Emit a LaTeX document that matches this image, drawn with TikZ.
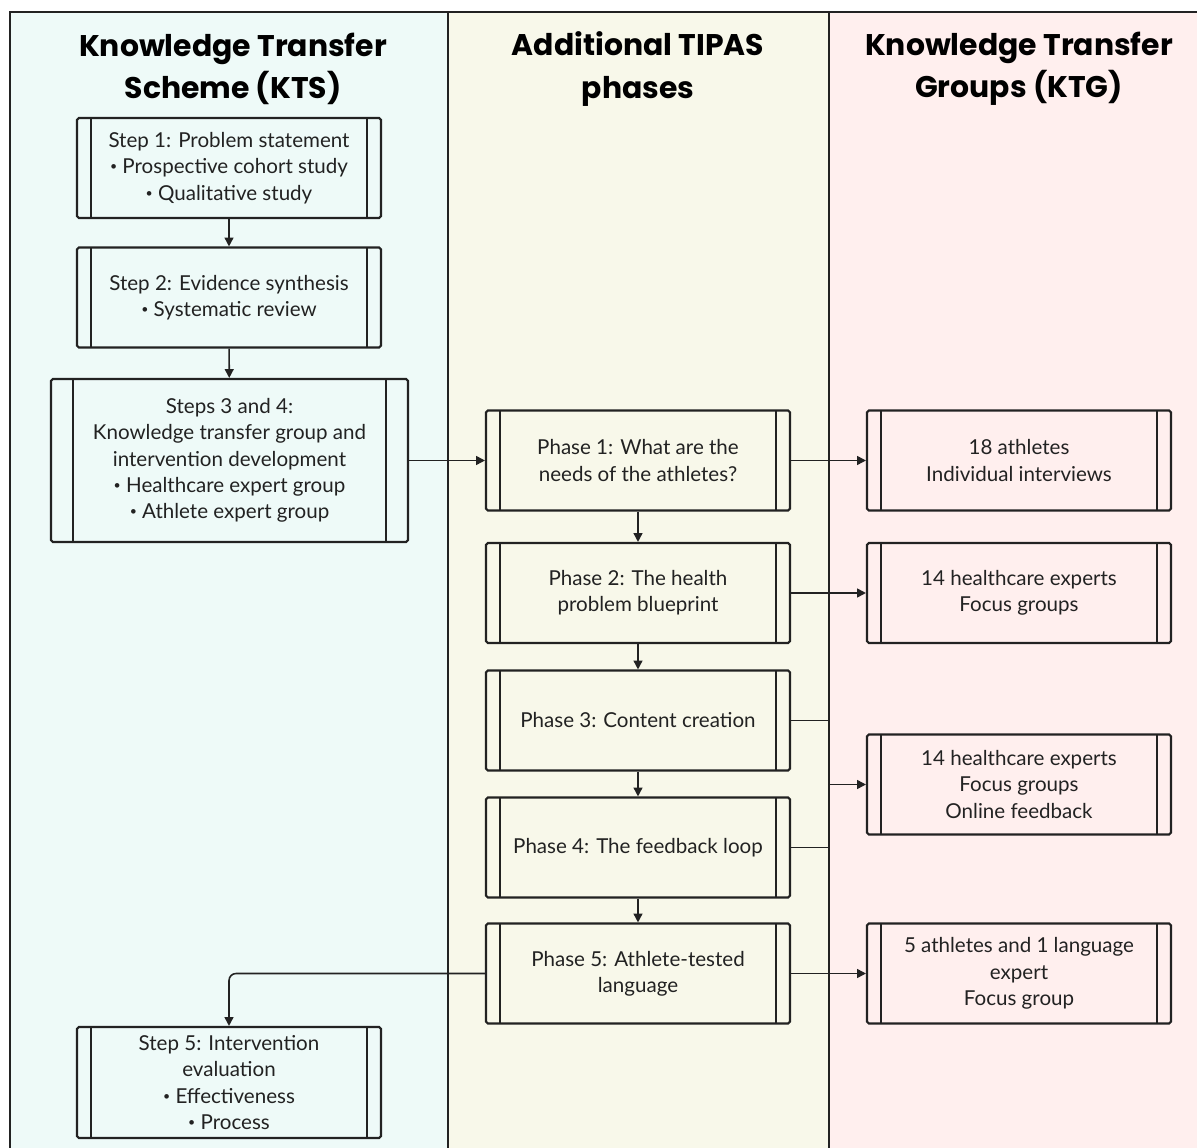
\documentclass[tikz,border=0pt]{standalone}
\usepackage{fontspec}
\setmainfont{Lato}
\newfontfamily\titlefont{Poppins}
\usetikzlibrary{arrows.meta,positioning}

\definecolor{lanecyan}{HTML}{EEFAF8}
\definecolor{laneyellow}{HTML}{F8F8EA}
\definecolor{lanepink}{HTML}{FFEFEE}
\definecolor{inkgray}{HTML}{222222}

\newcommand\smbul{\raisebox{0.28ex}{\scalebox{0.6}{\textbullet}}\ }

\tikzset{
  procbox/.style={draw=inkgray, line width=1.2pt, rounded corners=1pt,
    minimum width=6.08cm, minimum height=2cm, align=center, inner sep=0pt,
    text=inkgray, font=\fontsize{11.7}{15}\selectfont,
    path picture={
      \draw[inkgray, line width=1.2pt]
        ([xshift=#1]path picture bounding box.north west) --
        ([xshift=#1]path picture bounding box.south west);
      \draw[inkgray, line width=1.2pt]
        ([xshift=-#1]path picture bounding box.north east) --
        ([xshift=-#1]path picture bounding box.south east);
    }},
  procbox/.default=0.28cm,
  lanetitle/.style={align=center, text=black,
    font=\fontsize{17}{24}\selectfont\titlefont\bfseries},
  arr/.style={draw=inkgray, line width=0.9pt,
    -{Triangle[length=5pt,width=5pt]}},
  link/.style={draw=inkgray, line width=0.9pt}
}

\begin{document}
\begin{tikzpicture}[x=0.02cm, y=-0.02cm]
  \useasboundingbox (0,0) rectangle (1197,1148);

  % swim lanes
  \fill[lanecyan] (10,12) rectangle (448,1148);
  \fill[laneyellow] (448,12) rectangle (829,1148);
  \fill[lanepink] (829,12) rectangle (1197,1148);
  \draw[inkgray, line width=1.1pt] (10,1148) -- (10,12) -- (1197,12);
  \draw[inkgray, line width=1.1pt] (448,12) -- (448,1148);
  \draw[inkgray, line width=1.1pt] (829,12) -- (829,1148);

  % lane titles
  \node[lanetitle] (ttlkts) at (233,69) {Knowledge Transfer\\Scheme (KTS)};
  \node[lanetitle] (ttltip) at (638,69) {Additional TIPAS\\phases};
  \node[lanetitle] (ttlktg) at (1019,69) {Knowledge Transfer\\Groups (KTG)};

  % KTS steps
  \node[procbox] (st1) at (229,168)
    {Step 1: Problem statement\\ \smbul Prospective cohort study\\ \smbul Qualitative study};
  \node[procbox] (st2) at (229,297.5)
    {Step 2: Evidence synthesis\\ \smbul Systematic review};
  \node[procbox=0.44cm, minimum width=7.14cm, minimum height=3.26cm] (st34) at (229.5,460.5)
    {Steps 3 and 4:\\Knowledge transfer group and\\intervention development\\ \smbul Healthcare expert group\\ \smbul Athlete expert group};
  \node[procbox, minimum height=2.22cm] (st5) at (229,1082.5)
    {Step 5: Intervention\\evaluation\\ \smbul Effectiveness\\ \smbul Process};

  % TIPAS phases
  \node[procbox] (ph1) at (638,460.5) {Phase 1: What are the\\needs of the athletes?};
  \node[procbox] (ph2) at (638,593) {Phase 2: The health\\problem blueprint};
  \node[procbox] (ph3) at (638,720.5) {Phase 3: Content creation};
  \node[procbox] (ph4) at (638,847.5) {Phase 4: The feedback loop};
  \node[procbox] (ph5) at (638,973.5) {Phase 5: Athlete-tested\\language};

  % KTG groups
  \node[procbox] (kg1) at (1019,460.5) {18 athletes\\Individual interviews};
  \node[procbox] (kg2) at (1019,593) {14 healthcare experts\\Focus groups};
  \node[procbox] (kg3) at (1019,784.5) {14 healthcare experts\\Focus groups\\Online feedback};
  \node[procbox] (kg4) at (1019,973.5) {5 athletes and 1 language\\expert\\Focus group};

  % connectors
  \draw[arr] (st1) -- (st2);
  \draw[arr] (st2) -- (st34);
  \draw[arr] (st34.east) -- (ph1.west);
  \draw[arr] (ph1.east) -- (kg1.west);
  \draw[arr] (ph1) -- (ph2);
  \draw[arr] (ph2.east) -- (kg2.west);
  \draw[arr] (ph2) -- (ph3);
  \draw[arr] (ph3) -- (ph4);
  \draw[arr] (ph4) -- (ph5);
  \coordinate (join34) at (829,784.5);
  \draw[link] (ph3.east) -| (join34);
  \draw[link] (ph4.east) -| (join34);
  \draw[arr] (join34) -- (kg3.west);
  \draw[arr] (ph5.east) -- (kg4.west);
  \draw[arr, rounded corners=4pt] (ph5.west) -| (st5.north);
\end{tikzpicture}
\end{document}
